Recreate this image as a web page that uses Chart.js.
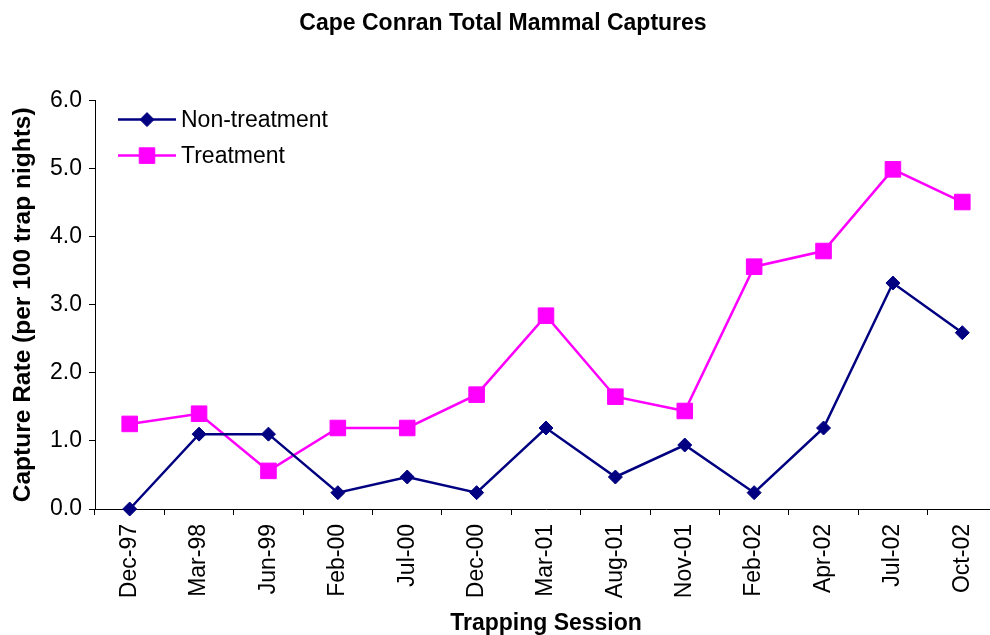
<!DOCTYPE html>
<html>
<head>
<meta charset="utf-8">
<script src="https://cdn.jsdelivr.net/npm/chart.js@4"></script>
<style>
  html, body { margin: 0; padding: 0; background: #fff; overflow: hidden; }
  canvas { display: block; }
</style>
</head>
<body>
<canvas id="chart" width="1009" height="635"></canvas>
<script>
// trapping sessions and capture rates (per 100 trap nights)
const sessions = ['Dec-97', 'Mar-98', 'Jun-99', 'Feb-00', 'Jul-00', 'Dec-00', 'Mar-01',
  'Aug-01', 'Nov-01', 'Feb-02', 'Apr-02', 'Jul-02', 'Oct-02'];
const nonTreatment = [0.0, 1.10, 1.10, 0.24, 0.47, 0.24, 1.19, 0.47, 0.94, 0.24, 1.19, 3.32, 2.59];
const treatment = [1.25, 1.40, 0.56, 1.19, 1.19, 1.68, 2.84, 1.65, 1.44, 3.56, 3.79, 4.99, 4.51];
const yMin = 0;
const yMax = 6;
const yStep = 1;

const FONT = '"Liberation Sans", Arial, sans-serif';
Chart.defaults.font.family = FONT;
Chart.defaults.color = '#000';

// legend drawn inside the plot, excel style: line + marker + label
const inlineLegend = {
  id: 'inlineLegend',
  afterDatasetsDraw(chart) {
    const { ctx, chartArea } = chart;
    chart.data.datasets.forEach((ds, i) => {
      const y = chartArea.top + 19 + i * 36;
      const x0 = chartArea.left + 23;
      ctx.save();
      ctx.strokeStyle = ds.borderColor;
      ctx.lineWidth = ds.borderWidth;
      ctx.beginPath();
      ctx.moveTo(x0, y);
      ctx.lineTo(x0 + 58, y);
      ctx.stroke();
      ctx.fillStyle = ds.pointBackgroundColor;
      ctx.strokeStyle = ds.pointBorderColor;
      ctx.lineWidth = ds.pointBorderWidth;
      Chart.helpers.drawPoint(ctx, {
        pointStyle: ds.pointStyle,
        radius: ds.pointRadius,
        borderWidth: ds.pointBorderWidth,
        rotation: 0
      }, x0 + 29, y);
      ctx.fillStyle = '#000';
      ctx.font = '23px ' + FONT;
      ctx.textBaseline = 'middle';
      ctx.textAlign = 'left';
      ctx.fillText(ds.label, x0 + 63, y + 1);
      ctx.restore();
    });
  }
};

new Chart(document.getElementById('chart'), {
  type: 'line',
  data: {
    labels: sessions,
    datasets: [
      {
        label: 'Non-treatment',
        data: nonTreatment,
        borderColor: '#000080',
        borderWidth: 2.5,
        pointStyle: 'rectRot',
        pointRadius: 7,
        pointHoverRadius: 7,
        pointBackgroundColor: '#000080',
        pointBorderColor: '#000080',
        pointBorderWidth: 1,
        tension: 0,
        fill: false,
        clip: false
      },
      {
        label: 'Treatment',
        data: treatment,
        borderColor: '#ff00ff',
        borderWidth: 2.5,
        pointStyle: 'rect',
        pointRadius: 11,
        pointHoverRadius: 11,
        pointBackgroundColor: '#ff00ff',
        pointBorderColor: '#ff00ff',
        pointBorderWidth: 1,
        tension: 0,
        fill: false,
        clip: false
      }
    ]
  },
  options: {
    responsive: false,
    animation: false,
    layout: { padding: { left: 0, right: 3, top: 0, bottom: 0 } },
    plugins: {
      legend: { display: false },
      tooltip: { enabled: false },
      title: {
        display: true,
        text: 'Cape Conran Total Mammal Captures',
        color: '#000',
        font: { size: 23, weight: 'bold', lineHeight: 1.2 },
        padding: { top: 10, bottom: 63 }
      }
    },
    scales: {
      x: {
        offset: true,
        grid: { offset: true, drawOnChartArea: false, tickLength: 6, color: '#000' },
        border: { color: '#000', width: 1 },
        ticks: { maxRotation: 90, minRotation: 90, autoSkip: false, padding: 9, color: '#000', font: { size: 23 } },
        title: {
          display: true,
          text: 'Trapping Session',
          color: '#000',
          font: { size: 23, weight: 'bold', lineHeight: 1 },
          padding: { top: 0, bottom: 0 }
        },
        afterFit(scale) { scale.height = 126; }
      },
      y: {
        min: yMin,
        max: yMax,
        grid: { drawOnChartArea: false, tickLength: 6, color: '#000' },
        border: { color: '#000', width: 1 },
        ticks: { stepSize: yStep, padding: 7, color: '#000', font: { size: 23 }, callback: v => v.toFixed(1) },
        title: {
          display: true,
          text: 'Capture Rate (per 100 trap nights)',
          color: '#000',
          font: { size: 24.5, weight: 'bold', lineHeight: 1 },
          padding: { top: 11, bottom: 0 }
        },
        afterFit(scale) { scale.width = 95; }
      }
    }
  },
  plugins: [inlineLegend]
});
</script>
</body>
</html>
